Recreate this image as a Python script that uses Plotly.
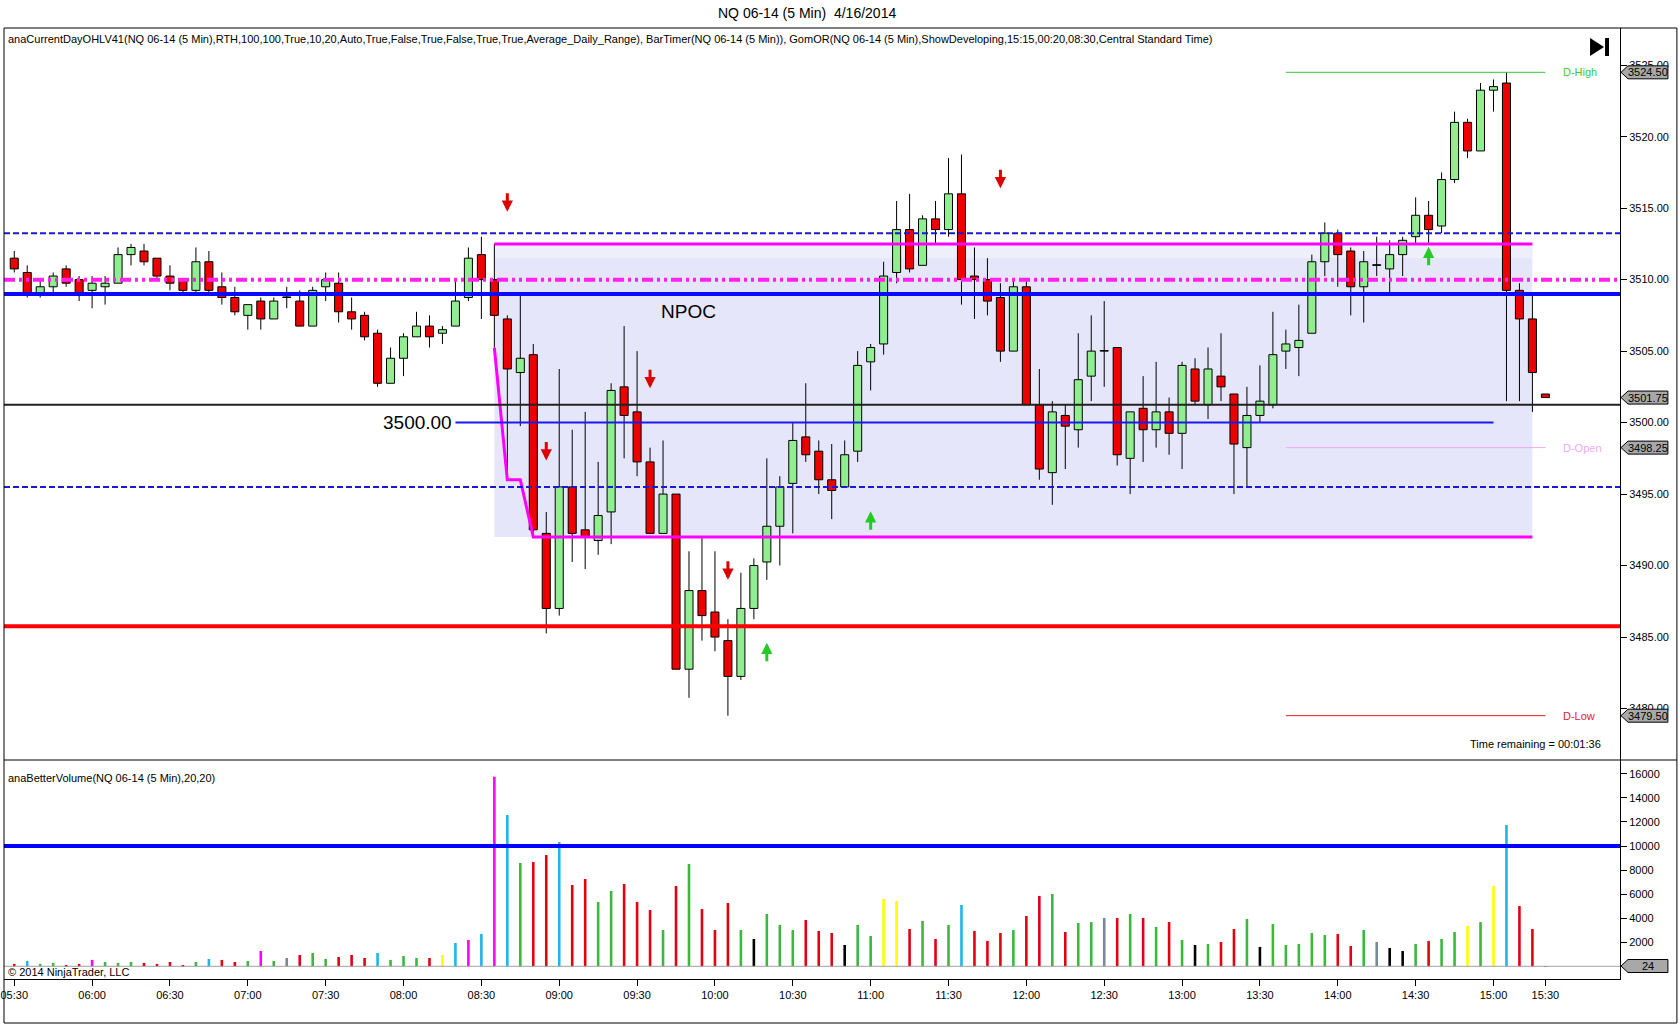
import plotly.graph_objects as go

# ---------------- data ----------------
bar_times = [f"{(330 + 5 * i) // 60:02d}:{(330 + 5 * i) % 60:02d}" for i in range(118)] + ["15:30"]

opens = [
    3511.5, 3510.5, 3509.0, 3509.5, 3510.75, 3510.0, 3509.25, 3509.5, 3509.75, 3511.75,
    3512.0, 3511.5, 3510.25, 3510.0, 3509.25, 3511.25, 3509.5, 3508.75, 3507.5, 3508.5,
    3507.25, 3508.75, 3508.5, 3506.75, 3509.5, 3509.75, 3507.75, 3507.5, 3506.25, 3502.75,
    3504.5, 3506.0, 3506.75, 3506.25, 3506.75, 3508.75, 3511.75, 3510.0, 3507.25, 3503.5,
    3504.75, 3492.25, 3487.0, 3495.5, 3492.5, 3491.75, 3493.75, 3502.5, 3500.75, 3497.25,
    3492.25, 3495.0, 3482.75, 3488.25, 3486.75, 3484.75, 3482.25, 3487.0, 3490.25, 3492.75,
    3495.75, 3499.0, 3498.0, 3496.0, 3495.5, 3498.0, 3504.25, 3505.5, 3510.5, 3513.5,
    3511.0, 3514.25, 3513.5, 3516.0, 3510.25, 3510.0, 3508.75, 3505.0, 3509.5, 3501.25,
    3496.5, 3500.5, 3499.5, 3503.25, 3505.0, 3505.25, 3497.5, 3501.0, 3499.5, 3500.75,
    3499.25, 3503.75, 3501.25, 3503.25, 3502.0, 3498.25, 3500.5, 3501.25, 3505.0, 3505.25,
    3506.25, 3511.25, 3513.25, 3512.0, 3509.5, 3511.0, 3510.75, 3511.75, 3513.0, 3514.5,
    3513.75, 3517.0, 3521.0, 3519.0, 3523.25, 3523.75, 3509.25, 3507.25, 3502.0,
]
highs = [
    3512.0, 3511.0, 3510.0, 3510.5, 3511.0, 3510.25, 3510.25, 3510.25, 3512.25, 3512.5,
    3512.5, 3511.5, 3511.0, 3510.0, 3512.25, 3512.0, 3510.5, 3509.5, 3508.25, 3508.75,
    3508.75, 3509.5, 3509.25, 3509.5, 3510.5, 3510.5, 3508.75, 3507.75, 3506.5, 3505.25,
    3506.25, 3507.75, 3507.5, 3506.75, 3510.0, 3512.25, 3513.0, 3512.5, 3507.5, 3509.0,
    3505.5, 3493.75, 3503.75, 3499.5, 3500.75, 3497.25, 3502.75, 3506.75, 3505.0, 3498.25,
    3498.75, 3495.0, 3491.0, 3492.0, 3491.0, 3486.25, 3489.5, 3490.5, 3497.5, 3496.25,
    3500.0, 3502.75, 3498.75, 3498.5, 3498.75, 3505.0, 3505.5, 3511.25, 3515.5, 3516.0,
    3514.5, 3515.5, 3518.5, 3518.75, 3512.25, 3511.5, 3509.75, 3510.0, 3510.0, 3503.75,
    3501.5, 3501.25, 3506.25, 3507.5, 3508.5, 3505.25, 3500.75, 3503.25, 3504.25, 3501.75,
    3504.25, 3504.5, 3505.25, 3506.25, 3502.0, 3502.5, 3504.0, 3507.75, 3506.5, 3508.25,
    3511.75, 3514.0, 3513.5, 3512.25, 3512.0, 3513.0, 3512.75, 3513.0, 3515.75, 3515.5,
    3517.5, 3521.75, 3521.25, 3523.75, 3524.0, 3524.5, 3509.75, 3509.0, 3502.0,
]
lows = [
    3510.5, 3508.75, 3508.75, 3509.0, 3509.5, 3508.5, 3508.0, 3508.25, 3509.75, 3511.0,
    3511.0, 3510.0, 3509.25, 3509.0, 3509.0, 3509.0, 3508.25, 3507.5, 3506.5, 3506.5,
    3507.25, 3508.0, 3506.75, 3506.75, 3508.5, 3507.0, 3506.5, 3505.75, 3502.5, 3502.75,
    3503.25, 3506.0, 3505.25, 3505.5, 3506.75, 3508.5, 3507.25, 3505.25, 3496.0, 3499.75,
    3492.0, 3485.25, 3486.5, 3490.25, 3489.75, 3490.75, 3491.5, 3497.5, 3496.25, 3492.25,
    3492.25, 3482.75, 3480.75, 3484.75, 3484.0, 3479.5, 3482.0, 3486.25, 3489.0, 3490.0,
    3492.25, 3497.25, 3495.0, 3493.25, 3495.5, 3497.25, 3502.25, 3504.75, 3509.75, 3510.5,
    3511.0, 3512.5, 3513.0, 3508.25, 3507.25, 3507.5, 3504.25, 3505.0, 3501.25, 3496.0,
    3494.25, 3496.75, 3498.25, 3501.5, 3502.5, 3497.0, 3495.0, 3497.25, 3498.25, 3497.75,
    3496.75, 3501.25, 3500.25, 3501.5, 3495.0, 3495.5, 3500.0, 3501.0, 3503.75, 3503.25,
    3506.25, 3510.25, 3509.5, 3507.5, 3507.0, 3510.25, 3509.0, 3510.25, 3512.5, 3512.5,
    3513.25, 3516.75, 3518.5, 3519.0, 3521.75, 3501.5, 3501.5, 3500.75, 3501.75,
]
closes = [
    3510.75, 3509.0, 3509.5, 3510.25, 3509.75, 3509.0, 3509.75, 3509.75, 3511.75, 3512.25,
    3511.25, 3510.25, 3509.75, 3509.25, 3511.25, 3509.25, 3508.75, 3507.75, 3508.25, 3507.25,
    3508.5, 3508.75, 3506.75, 3509.25, 3510.0, 3507.75, 3507.25, 3506.0, 3502.75, 3504.5,
    3506.0, 3506.75, 3506.0, 3506.5, 3508.5, 3511.5, 3510.0, 3507.5, 3503.75, 3504.5,
    3492.5, 3487.0, 3495.5, 3492.25, 3492.0, 3493.5, 3502.25, 3500.5, 3497.25, 3492.25,
    3495.0, 3482.75, 3488.25, 3486.5, 3485.0, 3482.25, 3487.0, 3490.0, 3492.75, 3495.5,
    3498.75, 3497.75, 3496.0, 3495.25, 3497.75, 3504.0, 3505.25, 3510.25, 3513.5, 3510.75,
    3514.25, 3513.5, 3516.0, 3510.0, 3510.0, 3508.5, 3505.0, 3509.5, 3501.25, 3496.75,
    3500.75, 3499.75, 3503.0, 3505.0, 3505.0, 3497.75, 3500.75, 3499.5, 3500.75, 3499.25,
    3504.0, 3501.5, 3503.75, 3502.5, 3498.5, 3500.5, 3501.5, 3504.75, 3505.5, 3505.75,
    3511.25, 3513.25, 3511.75, 3509.5, 3511.25, 3511.0, 3511.75, 3512.75, 3514.5, 3513.5,
    3517.0, 3521.0, 3519.0, 3523.25, 3523.5, 3509.25, 3507.25, 3503.5, 3501.75,
]

volumes = [
    200, 450, 200, 280, 100, 200, 530, 360, 280, 360,
    280, 200, 360, 80, 360, 610, 530, 360, 440, 1270,
    440, 690, 940, 1110, 610, 780, 940, 690, 1110, 530,
    860, 690, 690, 940, 1940, 2190, 2690, 15760, 12580, 8590,
    8670, 9250, 10330, 6760, 7260, 5350, 6260, 6840, 5350, 4680,
    3020, 6680, 8500, 4760, 3020, 5260, 3020, 2270, 4350, 3440,
    3020, 3850, 2940, 2770, 1770, 3440, 2520, 5600, 5430, 3100,
    3770, 2270, 3440, 5100, 2940, 2110, 2770, 3020, 4180, 5850,
    6010, 2850, 3600, 3680, 4020, 4020, 4350, 4020, 3270, 3680,
    2190, 1770, 1860, 2020, 3100, 3930, 1610, 3520, 1770, 1860,
    2770, 2600, 2690, 1690, 3020, 2020, 1520, 1270, 1860, 2110,
    2270, 2850, 3350, 3680, 6680, 11750, 5010, 3100, 24,
]
# r=down, g=up, c=churn, m=climax, y=low-vol churn, k=low volume, s=neutral
volume_kind = (
    "r c g g r r m g g g  r r r r g c r r g m  g s r g g r r r c g  g g r y c m c m c g "
    "r r c r r g g r r r  g r g r r r g k g g  g r r r k g g y y r  g r g c r r r g r r "
    "g r g g s r g r g r  g k g r r g k g g g  g g r r g s k k g r  g g y g y c r r r"
).split()

# key levels
level_dashed = [3513.25, 3495.5]
level_dashdot = 3510.0
level_blue = 3509.0
level_black = 3501.25
level_red = 3485.75
npoc_level = 3500.0
volume_avg = 10000

or_start, or_end, or_last = 37, 40, 117      # opening range bars (08:30-08:50)
day_high, day_open, day_low = 3524.5, 3498.25, 3479.5
last_price = 3501.75
day_from, day_to = 98, 118

arrow_dn_bars = [38, 41, 49, 55, 76]
arrow_dn_prices = [3514.75, 3497.35, 3502.4, 3489.0, 3516.4]
arrow_up_bars = [58, 66, 109]
arrow_up_prices = [3484.6, 3493.8, 3512.3]

price_ticks = [3480, 3485, 3490, 3495, 3500, 3505, 3510, 3515, 3520, 3525]
volume_ticks = [2000, 4000, 6000, 8000, 10000, 12000, 14000, 16000]

# ---------------- layout geometry ----------------
W, H = 1680, 1025
ML, MR, MT, MB = 1, 60, 28, 46
PW, PH = W - ML - MR, H - MT - MB


def px(x):
    return (x - ML) / PW


def py(y):
    return (H - MB - y) / PH


split = py(760)
price_range = [3476.4, 3527.6]
vol_range = [-1056, 17149]
price_per_px = (price_range[1] - price_range[0]) / (760 - MT)
vol_per_px = (vol_range[1] - vol_range[0]) / (H - MB - 760)

RED = "#ee0000"
GREEN_BODY = "#90ee90"
vol_palette = {"r": "#e3000f", "g": "#3cb83c", "c": "#1eb4ee", "m": "#ff00ff",
               "y": "#ffff00", "k": "#000000", "s": "#778899"}
FONT = "Liberation Sans, Arial, sans-serif"

idx = list(range(len(opens)))

# ---------------- traces ----------------
fig = go.Figure()

body_base = [min(o, c) for o, c in zip(opens, closes)]
body_len = [max(abs(c - o), 0.04) for o, c in zip(opens, closes)]
body_col = [GREEN_BODY if c > o else (RED if c < o else "black") for o, c in zip(opens, closes)]

fig.add_trace(go.Bar(x=idx, y=body_len, base=body_base, width=0.62,
                     marker=dict(color=body_col, line=dict(color="black", width=1)),
                     hoverinfo="skip", showlegend=False))

wx, wy = [], []
for i, o, h, l, c in zip(idx, opens, highs, lows, closes):
    top, bot = max(o, c), min(o, c)
    if h > top:
        wx += [i, i, None]
        wy += [top, h, None]
    if l < bot:
        wx += [i, i, None]
        wy += [bot, l, None]
fig.add_trace(go.Scatter(x=wx, y=wy, mode="lines", line=dict(color="black", width=1),
                         hoverinfo="skip", showlegend=False))

# opening range (GomOR) lines
or_bars = list(range(or_start, or_end + 1))
or_low = [min(lows[or_start:k + 1]) for k in or_bars]
or_high = [max(highs[or_start:k + 1]) for k in or_bars]
fig.add_trace(go.Scatter(x=or_bars + [or_last], y=or_low + [or_low[-1]], mode="lines",
                         line=dict(color="#ff00ff", width=3), hoverinfo="skip", showlegend=False))
fig.add_trace(go.Scatter(x=or_bars + [or_last], y=or_high + [or_high[-1]], mode="lines",
                         line=dict(color="#ff00ff", width=3), hoverinfo="skip", showlegend=False))

# volume
fig.add_trace(go.Bar(x=idx, y=volumes, width=0.2, yaxis="y2",
                     marker=dict(color=[vol_palette[k] for k in volume_kind], line=dict(width=0)),
                     hoverinfo="skip", showlegend=False))

# ---------------- shapes ----------------
shapes = []
# opening range box
shapes.append(dict(type="rect", xref="x", yref="y", x0=or_start, x1=or_last,
                   y0=or_low[-1], y1=or_high[-1], fillcolor="#e6e6fa", line=dict(width=0),
                   layer="below"))
shapes.append(dict(type="rect", xref="x", yref="y", x0=or_start, x1=or_last,
                   y0=or_high[-1] - 1.0, y1=or_high[-1], fillcolor="#efeffc", line=dict(width=0),
                   layer="below"))


def hline(y, color, width, dash="solid", yref="y"):
    return dict(type="line", xref="x domain", yref=yref, x0=0, x1=1, y0=y, y1=y,
                line=dict(color=color, width=width, dash=dash))


for lv in level_dashed:
    shapes.append(hline(lv, "#1a1ad2", 2, "6px,3px"))
shapes.append(hline(level_dashdot, "#ff22ee", 4, "11px,4px,3px,4px,3px,4px"))
shapes.append(hline(level_blue, "#0a0aff", 4))
shapes.append(hline(level_black, "#222222", 2))
shapes.append(hline(level_red, "#ff0000", 4))
shapes.append(hline(volume_avg, "#0000ff", 4, yref="y2"))
shapes.append(hline(0, "#a0a0a0", 1, yref="y2"))

shapes.append(dict(type="line", xref="x", yref="y", x0=34, x1=114, y0=npoc_level, y1=npoc_level,
                   line=dict(color="#1a1aee", width=2)))

for lv, col in [(day_high, "#33cc33"), (day_open, "#f0a8f0"), (day_low, "#dd2222")]:
    shapes.append(dict(type="line", xref="x", yref="y", x0=day_from, x1=day_to, y0=lv, y1=lv,
                       line=dict(color=col, width=1)))

# frame and separators
shapes.append(dict(type="rect", xref="paper", yref="paper", x0=px(1), x1=px(1677),
                   y0=py(1023), y1=py(MT), line=dict(color="black", width=1)))
shapes.append(dict(type="line", xref="paper", yref="paper", x0=px(1), x1=px(1677),
                   y0=split, y1=split, line=dict(color="black", width=1)))

# play/end icon
shapes.append(dict(type="path", xref="paper", yref="paper",
                   path=f"M {px(1590)},{py(38)} L {px(1604)},{py(47)} L {px(1590)},{py(56)} Z",
                   fillcolor="black", line=dict(width=0)))
shapes.append(dict(type="rect", xref="paper", yref="paper", x0=px(1605), x1=px(1609),
                   y0=py(56), y1=py(38), fillcolor="black", line=dict(width=0)))

annotations = []


def flag(value, text, yref, per_px):
    half = 6.5 * per_px
    x_tip, x_b, x_end = px(1621), px(1628), px(1668)
    shapes.append(dict(type="path", xref="paper", yref=yref,
                       path=(f"M {x_tip},{value} L {x_b},{value + half} L {x_end},{value + half} "
                             f"L {x_end},{value - half} L {x_b},{value - half} Z"),
                       fillcolor="#a8a8a8", line=dict(color="black", width=1)))
    annotations.append(dict(xref="paper", yref=yref, x=(x_b + x_end) / 2, y=value, text=text,
                            showarrow=False, font=dict(size=11, color="black"),
                            xanchor="center", yanchor="middle"))


flag(day_high, f"{day_high:.2f}", "y", price_per_px)
flag(last_price, f"{last_price:.2f}", "y", price_per_px)
flag(day_open, f"{day_open:.2f}", "y", price_per_px)
flag(day_low, f"{day_low:.2f}", "y", price_per_px)
flag(volumes[-1], f"{volumes[-1]}", "y2", vol_per_px)

# arrows
for b, p in zip(arrow_dn_bars, arrow_dn_prices):
    annotations.append(dict(x=b, y=p, xref="x", yref="y", text="", showarrow=True, ax=0, ay=-20,
                            arrowhead=2, arrowsize=0.75, arrowwidth=3, arrowcolor="#dd0000",
                            standoff=0, startstandoff=0))
for b, p in zip(arrow_up_bars, arrow_up_prices):
    annotations.append(dict(x=b, y=p, xref="x", yref="y", text="", showarrow=True, ax=0, ay=20,
                            arrowhead=2, arrowsize=0.75, arrowwidth=3, arrowcolor="#22cc22",
                            standoff=0, startstandoff=0))

# labels for day levels
for lv, txt, col in [(day_high, "D-High", "#33cc33"), (day_open, "D-Open", "#f0a8f0"),
                     (day_low, "D-Low", "#dd2222")]:
    annotations.append(dict(x=day_to + 1.2, y=lv, xref="x", yref="y", text=txt, showarrow=False,
                            xanchor="left", yanchor="middle", font=dict(size=11, color=col)))

annotations.append(dict(x=33.9, y=npoc_level, xref="x", yref="y", text=f"{npoc_level:.2f}",
                        showarrow=False, xanchor="right", yanchor="middle",
                        font=dict(size=19, color="black")))
annotations.append(dict(x=52, y=3507.8, xref="x", yref="y", text="NPOC", showarrow=False,
                        xanchor="center", yanchor="middle", font=dict(size=19, color="black")))

annotations.append(dict(xref="paper", yref="paper", x=0.497, y=py(13),
                        text="NQ 06-14 (5 Min)\u00a0 4/16/2014",
                        showarrow=False, xanchor="center", yanchor="middle",
                        font=dict(size=14, color="black")))
annotations.append(dict(xref="paper", yref="paper", x=px(3), y=py(39),
                        text=("anaCurrentDayOHLV41(NQ 06-14 (5 Min),RTH,100,100,True,10,20,Auto,True,False,"
                              "True,False,True,True,Average_Daily_Range), BarTimer(NQ 06-14 (5 Min)), "
                              "GomOR(NQ 06-14 (5 Min),ShowDeveloping,15:15,00:20,08:30,Central Standard Time)"),
                        showarrow=False, xanchor="left", yanchor="middle",
                        font=dict(size=11, color="black")))
annotations.append(dict(xref="paper", yref="paper", x=px(1603), y=py(744),
                        text="Time remaining = 00:01:36", showarrow=False, xanchor="right",
                        yanchor="middle", font=dict(size=11, color="black")))
annotations.append(dict(xref="paper", yref="paper", x=px(3), y=py(778),
                        text="anaBetterVolume(NQ 06-14 (5 Min),20,20)", showarrow=False,
                        xanchor="left", yanchor="middle", font=dict(size=11, color="black")))
annotations.append(dict(xref="paper", yref="paper", x=px(3), y=py(972),
                        text="\u00a9 2014 NinjaTrader, LLC", showarrow=False,
                        xanchor="left", yanchor="middle", font=dict(size=11, color="black")))

tick_pos = [i for i, t in enumerate(bar_times) if t.endswith(":00") or t.endswith(":30")]

axis_common = dict(ticks="outside", ticklen=6, tickcolor="black", showline=True,
                   linecolor="black", linewidth=1, showgrid=False, zeroline=False,
                   tickfont=dict(size=11))

fig.update_layout(
    width=W, height=H,
    margin=dict(l=ML, r=MR, t=MT, b=MB),
    paper_bgcolor="white", plot_bgcolor="white",
    font=dict(family=FONT, size=11, color="black"),
    barmode="overlay", showlegend=False,
    shapes=shapes, annotations=annotations,
    xaxis=dict(range=[-0.79, 123.75], anchor="y2", tickmode="array", tickvals=tick_pos,
               ticktext=[bar_times[i] for i in tick_pos], ticklabeloverflow="allow",
               **axis_common),
    yaxis=dict(domain=[split, 1], range=price_range, side="right", anchor="x",
               tickmode="array", tickvals=price_ticks,
               ticktext=[f"{v:.2f}" for v in price_ticks], **axis_common),
    yaxis2=dict(domain=[0, split], range=vol_range, side="right", anchor="x",
                tickmode="array", tickvals=volume_ticks,
                ticktext=[str(v) for v in volume_ticks], **axis_common),
)

fig.write_html("out.html", config={"displayModeBar": False},
               post_script="document.body.style.margin='0';document.body.style.overflow='hidden';")
